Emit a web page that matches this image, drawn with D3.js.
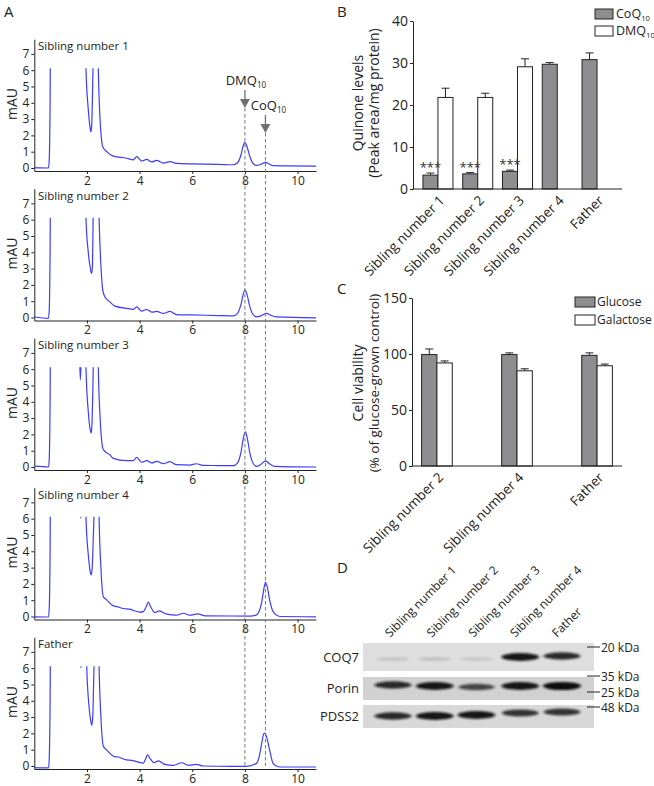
<!DOCTYPE html>
<html><head><meta charset="utf-8">
<script src="https://cdn.jsdelivr.net/npm/d3@7"></script>
<style>
body{margin:0;background:#fff}
svg{display:block;font-family:"Open Sans",sans-serif}
</style>
</head><body>
<svg id="fig" width="654" height="786"></svg>
<script>
// ---------------- DATA ----------------
// Panel A: HPLC chromatograms, [retention time (min), absorbance (mAU)]
const chromNames = ["Sibling number 1","Sibling number 2","Sibling number 3","Sibling number 4","Father"];
const traceSibling1 = [[0,0.02],[0.54,0.0],[0.57,0.6],[0.6,4],[0.63,12],[1.2,20],[1.9,12],[1.96,6.2],[2.05,3.6],[2.12,2.45],[2.15,2.22],[2.18,2.6],[2.21,4.5],[2.24,7],[2.32,14],[2.38,12],[2.43,6.2],[2.49,3.2],[2.55,1.8],[2.6,1.3],[2.75,1.0],[3.0,0.73],[3.5,0.6],[3.76,0.5],[3.89,0.7],[4.08,0.43],[4.27,0.53],[4.46,0.37],[4.65,0.47],[4.9,0.3],[5.15,0.39],[5.4,0.28],[6.0,0.25],[7.0,0.22],[7.56,0.2],[7.72,0.32],[7.85,0.8],[7.94,1.4],[8.0,1.57],[8.07,1.35],[8.19,0.69],[8.3,0.3],[8.44,0.16],[8.6,0.22],[8.78,0.35],[8.92,0.25],[9.07,0.14],[9.5,0.13],[10.7,0.12]];
const traceSibling2 = [[0,0.03],[0.54,-0.05],[0.57,0.6],[0.6,4],[0.63,12],[1.2,20],[1.9,12],[1.96,6.2],[2.05,4.0],[2.13,3.0],[2.18,2.7],[2.21,3.2],[2.24,7],[2.32,14],[2.4,12],[2.46,6.2],[2.53,3.2],[2.6,1.68],[2.68,1.27],[2.87,0.96],[3.06,0.7],[3.63,0.53],[3.76,0.49],[3.89,0.65],[4.08,0.39],[4.27,0.49],[4.46,0.33],[4.65,0.37],[4.9,0.25],[5.15,0.37],[5.4,0.18],[5.97,0.16],[7.0,0.12],[7.56,0.1],[7.72,0.25],[7.85,0.8],[7.94,1.45],[8.01,1.68],[8.08,1.4],[8.19,0.65],[8.3,0.2],[8.44,0.04],[8.6,0.1],[8.82,0.25],[9.0,0.12],[9.2,0.04],[10.7,-0.02]];
const traceSibling3 = [[0,0.05],[0.54,0.0],[0.57,0.6],[0.6,4],[0.63,12],[1.2,20],[1.68,12],[1.72,6.8],[1.75,5.35],[1.78,6.8],[1.82,12],[1.9,12],[1.96,6.2],[2.05,3.4],[2.12,2.3],[2.16,2.08],[2.19,2.6],[2.22,4.5],[2.25,7],[2.32,14],[2.38,12],[2.43,6.2],[2.5,3],[2.56,1.6],[2.6,1.16],[2.68,0.96],[2.87,0.75],[3.0,0.53],[3.5,0.39],[3.76,0.39],[3.89,0.59],[4.08,0.29],[4.27,0.39],[4.46,0.25],[4.65,0.35],[4.9,0.2],[5.15,0.33],[5.4,0.14],[5.9,0.12],[6.16,0.2],[6.4,0.1],[7.0,0.09],[7.56,0.08],[7.72,0.25],[7.85,0.9],[7.95,1.85],[8.02,2.15],[8.09,1.75],[8.2,0.76],[8.32,0.2],[8.44,0.04],[8.6,0.15],[8.78,0.37],[8.95,0.18],[9.14,0.04],[10.7,0]];
const traceSibling4 = [[0,-0.02],[0.54,-0.03],[0.57,0.6],[0.6,4],[0.63,12],[1.2,20],[1.72,8],[1.77,6.02],[1.82,8],[1.9,12],[1.96,6.2],[2.05,3.8],[2.12,2.8],[2.16,2.55],[2.2,3.0],[2.24,4.8],[2.28,7],[2.34,14],[2.41,12],[2.46,6.2],[2.53,3.0],[2.62,1.22],[2.75,1.02],[3.0,0.65],[3.13,0.61],[3.38,0.49],[3.63,0.45],[3.76,0.37],[4.01,0.27],[4.14,0.3],[4.25,0.6],[4.33,0.88],[4.42,0.6],[4.58,0.24],[4.75,0.35],[5.0,0.16],[5.4,0.08],[5.66,0.2],[5.9,0.08],[6.2,0.16],[6.5,0.04],[7.5,0.03],[8.19,0.02],[8.44,0.1],[8.55,0.35],[8.63,0.8],[8.71,1.6],[8.78,2.1],[8.85,1.8],[8.94,1.0],[9.04,0.4],[9.14,0.16],[9.33,0],[10.7,-0.02]];
const traceFather = [[0,-0.1],[0.54,-0.12],[0.57,0.6],[0.6,4],[0.63,12],[1.2,20],[1.72,8],[1.77,6.02],[1.82,8],[1.92,12],[1.99,6.2],[2.07,3.8],[2.14,2.8],[2.18,2.5],[2.22,3.0],[2.25,4.8],[2.28,7],[2.34,14],[2.41,12],[2.46,6.2],[2.53,3.0],[2.62,1.23],[2.75,0.98],[3.06,0.57],[3.19,0.55],[3.5,0.37],[3.7,0.35],[3.89,0.27],[4.14,0.18],[4.22,0.4],[4.3,0.68],[4.4,0.45],[4.55,0.2],[4.71,0.31],[4.96,0.1],[5.28,0.04],[5.6,0.2],[5.85,0.04],[6.16,0.1],[6.4,0],[7.5,-0.02],[8.05,-0.02],[8.44,0.16],[8.57,0.78],[8.65,1.5],[8.72,2.0],[8.76,2.02],[8.82,1.8],[8.94,0.98],[9.07,0.16],[9.2,0],[9.33,-0.06],[10.7,-0.06]];
const chromTraces = [traceSibling1, traceSibling2, traceSibling3, traceSibling4, traceFather];
const chromXTicks = [2,4,6,8,10];
const chromYTicks = [0,1,2,3,4,5,6,7];
const peakTimes = [8.0, 8.78]; // DMQ10, CoQ10

// Panel B: quinone levels
const quinoneCategories = ["Sibling number 1","Sibling number 2","Sibling number 3","Sibling number 4","Father"];
const coq10Mean = [3.3, 3.6, 4.2, 29.7, 30.8];
const coq10Err  = [0.5, 0.3, 0.3, 0.4, 1.6];
const dmq10Mean = [21.8, 21.8, 29.1, null, null];
const dmq10Err  = [2.2, 1.0, 1.9, null, null];
const quinoneSig = ["***","***","***","",""];
const quinoneTicks = [0,10,20,30,40];

// Panel C: cell viability
const viabilityCategories = ["Sibling number 2","Sibling number 4","Father"];
const glucoseMean   = [99.5, 99.5, 98.8];
const glucoseErr    = [5.0, 1.5, 2.2];
const galactoseMean = [92.0, 85.0, 89.5];
const galactoseErr  = [1.8, 1.8, 1.5];
const viabilityTicks = [0,50,100,150];

// Panel D: western blot (relative band intensities)
const blotLanes = ["Sibling number 1","Sibling number 2","Sibling number 3","Sibling number 4","Father"];
const blotProteins = ["COQ7","Porin","PDSS2"];
const coq7Bands  = [0.08, 0.1, 0.07, 0.95, 0.85];
const porinBands = [0.85, 0.95, 0.7, 0.95, 1.0];
const pdss2Bands = [0.85, 0.95, 0.95, 0.8, 0.8];
const kdaLabels = ["20 kDa","35 kDa","25 kDa","48 kDa"];

// ---------------- DRAW ----------------
const svg = d3.select("#fig");
const ink = "#222";
const defs = svg.append("defs");

function styleAxis(g, size){
  g.selectAll("path.domain").attr("stroke", ink).attr("stroke-width",1);
  g.selectAll(".tick line").attr("stroke", ink);
  g.selectAll(".tick text").attr("fill", ink).style("font-size", size+"px").style("font-family","'Open Sans',sans-serif");
}
function subText(g, x, y, main, sub, size, anchor){
  const t = g.append("text").attr("x",x).attr("y",y).attr("fill",ink)
    .style("font-size",size+"px").attr("text-anchor",anchor||"start");
  t.append("tspan").text(main);
  t.append("tspan").attr("dy",3).style("font-size",(size*0.62)+"px").text(sub);
  return t;
}
function panelLetter(x,y,l){
  svg.append("text").attr("x",x).attr("y",y).text(l).attr("fill",ink).style("font-size","15px");
}

// ===== Panel A =====
panelLetter(4,17,"A");
const xA = d3.scaleLinear().domain([0,10.7]).range([34.3,316]);
const panelStep = 149.5;
const lineGen = d3.line().curve(d3.curveMonotoneX);
const firstZero = 168;
const lastZero = firstZero + 4*panelStep;
chromTraces.forEach((tr,i)=>{
  const z = firstZero + i*panelStep;
  const yA = d3.scaleLinear().domain([-0.184,7.9]).range([z+3, z-128.8]);
  const g = svg.append("g");
  const cid = "clipA"+i;
  defs.append("clipPath").attr("id",cid).append("rect")
    .attr("x",xA(0)).attr("y",yA(6.12)).attr("width",xA(10.7)-xA(0)).attr("height",yA(-0.184)-yA(6.12));
  const ax = g.append("g").attr("transform",`translate(0,${yA(-0.184)})`)
    .call(d3.axisBottom(xA).tickValues(chromXTicks).tickSize(3).tickSizeOuter(0).tickPadding(2));
  styleAxis(ax,12);
  const ay = g.append("g").attr("transform",`translate(${xA(0)},0)`)
    .call(d3.axisLeft(yA).tickValues(chromYTicks).tickSize(3).tickSizeOuter(0).tickPadding(2));
  styleAxis(ay,12);
  g.append("text").attr("transform",`translate(17,${z-64}) rotate(-90)`).attr("text-anchor","middle")
    .attr("fill",ink).style("font-size","14px").text("mAU");
  g.append("text").attr("x",38).attr("y",z-118).attr("fill",ink).style("font-size","11.5px").text(chromNames[i]);
  g.append("path").datum(tr.map(d=>[xA(d[0]),yA(d[1])])).attr("d",lineGen)
    .attr("fill","none").attr("stroke","#3c3cff").attr("stroke-width",1.2).attr("clip-path",`url(#${cid})`);
});
// dashed guide lines and arrows
const arrowCol = "#6e6e6e";
const arrowTips = [108, 133];
peakTimes.forEach((t,k)=>{
  const x = xA(t);
  svg.append("line").attr("x1",x).attr("x2",x).attr("y1",arrowTips[k]).attr("y2",lastZero)
    .attr("stroke","#777").attr("stroke-width",1).attr("stroke-dasharray","3.5,2.5");
  svg.append("line").attr("x1",x).attr("x2",x).attr("y1",arrowTips[k]-18).attr("y2",arrowTips[k]-6)
    .attr("stroke",arrowCol).attr("stroke-width",1.3);
  svg.append("path").attr("d",`M${x-5},${arrowTips[k]-9}L${x+5},${arrowTips[k]-9}L${x},${arrowTips[k]}Z`).attr("fill",arrowCol);
});
subText(svg, xA(8.0)+1, 85, "DMQ","10",13,"middle");
subText(svg, xA(8.78)+3, 110, "CoQ","10",13,"middle");

// ===== Panel B =====
panelLetter(337,17,"B");
const yB = d3.scaleLinear().domain([0,40]).range([189,21]);
const xB = d3.scaleBand().domain(quinoneCategories).range([413,622]).paddingInner(0.245).paddingOuter(0.25);
const bwB = xB.bandwidth()/2;
const gB = svg.append("g");
const ayB = gB.append("g").attr("transform","translate(413,0)")
  .call(d3.axisLeft(yB).tickValues(quinoneTicks).tickSize(3).tickSizeOuter(0).tickPadding(2));
styleAxis(ayB,14);
const greyFill = "#8e8e90";
function bar(g, x, w, yScale, v, e, fill){
  if(v==null) return;
  const y0 = yScale(0), y1 = yScale(v), ye = yScale(v+e), cx = x+w/2;
  g.append("line").attr("x1",cx).attr("x2",cx).attr("y1",y1).attr("y2",ye).attr("stroke",ink);
  g.append("line").attr("x1",cx-4).attr("x2",cx+4).attr("y1",ye).attr("y2",ye).attr("stroke",ink);
  g.append("rect").attr("x",x).attr("y",y1).attr("width",w).attr("height",y0-y1)
    .attr("fill",fill).attr("stroke",ink).attr("stroke-width",1);
}
quinoneCategories.forEach((c,i)=>{
  bar(gB, xB(c), bwB, yB, coq10Mean[i], coq10Err[i], greyFill);
  bar(gB, xB(c)+bwB, bwB, yB, dmq10Mean[i], dmq10Err[i], "#fff");
  if(quinoneSig[i]) gB.append("text").attr("x",xB(c)+bwB/2).attr("y",yB(coq10Mean[i]+coq10Err[i])-1)
    .attr("text-anchor","middle").attr("fill","#333").style("font-size","13px").text(quinoneSig[i]);
  gB.append("text").attr("transform",`translate(${xB(c)+bwB+4},${198}) rotate(-45)`)
    .attr("text-anchor","end").attr("dy","0.35em").attr("fill",ink).style("font-size","13.5px").text(c);
});
gB.append("line").attr("x1",413).attr("x2",622).attr("y1",yB(0)).attr("y2",yB(0)).attr("stroke",ink);
gB.append("text").attr("transform","translate(363,103) rotate(-90)").attr("text-anchor","middle")
  .attr("fill",ink).style("font-size","14px").text("Quinone levels");
gB.append("text").attr("transform","translate(379,103) rotate(-90)").attr("text-anchor","middle")
  .attr("fill",ink).style("font-size","14px").text("(Peak area/mg protein)");
// legend B
gB.append("rect").attr("x",595).attr("y",9).attr("width",18).attr("height",10).attr("fill",greyFill).attr("stroke",ink);
gB.append("rect").attr("x",595).attr("y",26).attr("width",18).attr("height",10).attr("fill","#fff").attr("stroke",ink);
subText(gB, 616, 18, "CoQ","10",12.5,"start");
subText(gB, 616, 35, "DMQ","10",12.5,"start");

// ===== Panel C =====
panelLetter(337,294,"C");
const yC = d3.scaleLinear().domain([0,150]).range([466,298]);
const xC = d3.scaleBand().domain(viabilityCategories).range([412,622]).paddingInner(0.617).paddingOuter(0.12);
const bwC = xC.bandwidth()/2;
const gC = svg.append("g");
const ayC = gC.append("g").attr("transform","translate(412,0)")
  .call(d3.axisLeft(yC).tickValues(viabilityTicks).tickSize(3).tickSizeOuter(0).tickPadding(2));
styleAxis(ayC,14);
viabilityCategories.forEach((c,i)=>{
  bar(gC, xC(c), bwC, yC, glucoseMean[i], glucoseErr[i], greyFill);
  bar(gC, xC(c)+bwC, bwC, yC, galactoseMean[i], galactoseErr[i], "#fff");
  gC.append("text").attr("transform",`translate(${xC(c)+bwC+4},${475}) rotate(-45)`)
    .attr("text-anchor","end").attr("dy","0.35em").attr("fill",ink).style("font-size","13.5px").text(c);
});
gC.append("line").attr("x1",412).attr("x2",622).attr("y1",yC(0)).attr("y2",yC(0)).attr("stroke",ink);
gC.append("text").attr("transform","translate(363,383) rotate(-90)").attr("text-anchor","middle")
  .attr("fill",ink).style("font-size","14px").text("Cell viability");
gC.append("text").attr("transform","translate(379,383) rotate(-90)").attr("text-anchor","middle")
  .attr("fill",ink).style("font-size","13.5px").text("(% of glucose-grown control)");
gC.append("rect").attr("x",575).attr("y",297).attr("width",20).attr("height",10).attr("fill",greyFill).attr("stroke",ink);
gC.append("rect").attr("x",575).attr("y",315).attr("width",20).attr("height",10).attr("fill","#fff").attr("stroke",ink);
gC.append("text").attr("x",597).attr("y",306).attr("fill",ink).style("font-size","12px").text("Glucose");
gC.append("text").attr("x",597).attr("y",324).attr("fill",ink).style("font-size","12px").text("Galactose");

// ===== Panel D =====
panelLetter(337,573,"D");
const gD = svg.append("g");
const xD = d3.scalePoint().domain(blotLanes).range([393,560]);
const blur = defs.append("filter").attr("id","bandBlur").attr("x","-30%").attr("y","-150%").attr("width","160%").attr("height","400%");
blur.append("feGaussianBlur").attr("stdDeviation","1.6 1.2");
const strips = [
  {name:"COQ7", y:643, h:28, fill:"#dedede", bands:coq7Bands, by:[659,659,659,657,656]},
  {name:"Porin", y:677, h:23, fill:"#d1d1d1", bands:porinBands, by:[685,686,687,686,686]},
  {name:"PDSS2", y:705, h:23, fill:"#d8d8d8", bands:pdss2Bands, by:[716,716,715,713,712]}
];
strips.forEach(s=>{
  gD.append("rect").attr("x",363).attr("y",s.y).attr("width",231).attr("height",s.h).attr("fill",s.fill);
  blotLanes.forEach((l,i)=>{
    const v = s.bands[i];
    gD.append("ellipse").attr("cx",xD(l)+ (i>2?2:0)).attr("cy",s.by[i])
      .attr("rx",16+ v*3).attr("ry",1.5+v*2.6)
      .attr("fill","#111").attr("opacity",Math.min(1,v*0.95+0.05)).attr("filter","url(#bandBlur)");
  });
  gD.append("text").attr("x",359).attr("y",s.y+s.h/2+4.5).attr("text-anchor","end")
    .attr("fill",ink).style("font-size","13px").text(s.name);
});
const kdaY = [647,676,692,707];
kdaLabels.forEach((k,i)=>{
  gD.append("line").attr("x1",587).attr("x2",600).attr("y1",kdaY[i]).attr("y2",kdaY[i]).attr("stroke",ink);
  gD.append("text").attr("x",601).attr("y",kdaY[i]+4.5).attr("fill",ink).style("font-size","12px").text(k);
});
blotLanes.forEach(l=>{
  gD.append("text").attr("transform",`translate(${xD(l)-3},638) rotate(-45)`)
    .attr("fill",ink).style("font-size","12px").text(l);
});
</script>
</body></html>
